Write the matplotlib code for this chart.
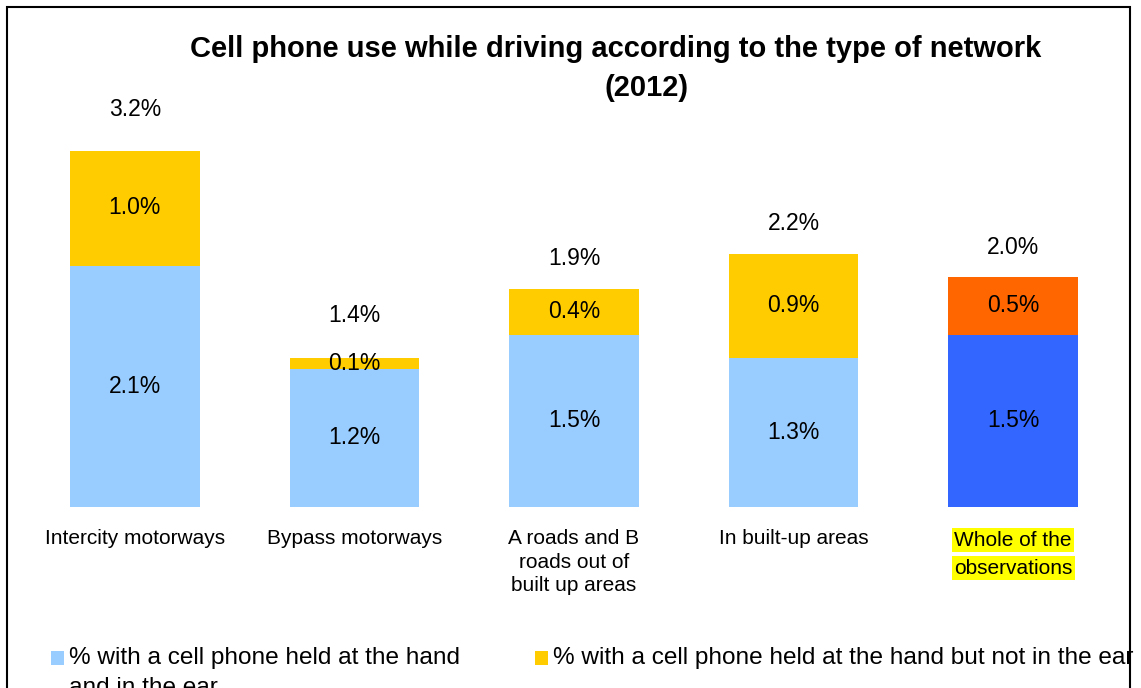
import matplotlib.pyplot as plt
from matplotlib.patches import Rectangle

plt.rcParams['font.family'] = ['Liberation Sans', 'DejaVu Sans']

# Data
categories = ["Intercity motorways", "Bypass motorways",
              "A roads and B\nroads out of\nbuilt up areas",
              "In built-up areas", "Whole of the\nobservations"]
hand_and_ear = [2.1, 1.2, 1.5, 1.3, 1.5]
hand_not_ear = [1.0, 0.1, 0.4, 0.9, 0.5]
totals = [3.2, 1.4, 1.9, 2.2, 2.0]
legend_labels = ["% with a cell phone held at the hand\nand in the ear",
                 "% with a cell phone held at the hand but not in the ear"]

colors_low = ["#99CCFF"] * 4 + ["#3366FF"]
colors_high = ["#FFCC00"] * 4 + ["#FF6600"]

W, H = 1141, 688
fig = plt.figure(figsize=(W / 100, H / 100), dpi=100)

# axes placed so the bar baseline sits near the bottom third
ymax = 4.0
px_per_unit = 115
ax = fig.add_axes([25 / W, 1 - 507 / H, (1123 - 25) / W, ymax * px_per_unit / H])
ax.set_xlim(-0.5, 4.5)
ax.set_ylim(0, ymax)
ax.axis("off")

x = range(len(categories))
ax.bar(x, hand_and_ear, width=0.59, color=colors_low)
ax.bar(x, hand_not_ear, width=0.59, bottom=hand_and_ear, color=colors_high)

for i in x:
    ax.text(i, hand_and_ear[i] / 2, f"{hand_and_ear[i]:.1f}%", ha="center", va="center", fontsize=16.5)
    ax.text(i, hand_and_ear[i] + hand_not_ear[i] / 2, f"{hand_not_ear[i]:.1f}%",
            ha="center", va="center", fontsize=16.5)
    ax.annotate(f"{totals[i]:.1f}%", xy=(i, totals[i]), xytext=(0, 30),
                textcoords="offset pixels", ha="center", va="center", fontsize=16.5)

# category labels under each bar
for i, cat in enumerate(categories[:-1]):
    ax.annotate(cat, xy=(i, 0), xytext=(0, -22), textcoords="offset pixels",
                ha="center", va="top", fontsize=15, linespacing=1.3)

# last category highlighted line by line
for j, line in enumerate(categories[-1].split("\n")):
    ax.annotate(line, xy=(4, 0), xytext=(0, -33 - 28 * j), textcoords="offset pixels",
                ha="center", va="center", fontsize=15,
                bbox=dict(boxstyle="square,pad=0.12", facecolor="#FFFF00", edgecolor="none"))

# title
fig.text(616 / W, 1 - 49 / H, "Cell phone use while driving according to the type of network",
         ha="center", va="center", fontsize=21, fontweight="bold")
fig.text(647 / W, 1 - 88 / H, "(2012)", ha="center", va="center", fontsize=21, fontweight="bold")

# legend (second line of the first entry runs off the bottom edge)
for sx, tx, col, lab in [(51, 69, colors_low[0], legend_labels[0]),
                          (535, 553, colors_high[0], legend_labels[1])]:
    fig.add_artist(Rectangle((sx / W, 1 - 665 / H), 13 / W, 14 / H,
                             transform=fig.transFigure, color=col, lw=0))
    fig.text(tx / W, 1 - 647 / H, lab, ha="left", va="top", fontsize=17.6,
             linespacing=1.45)

# outer frame
fig.add_artist(Rectangle((7 / W, -0.1), (1130 - 7) / W, 1 - 7 / H + 0.1,
                         transform=fig.transFigure, fill=False, edgecolor="black", lw=1.5))

fig.savefig("out.png", dpi=100)
